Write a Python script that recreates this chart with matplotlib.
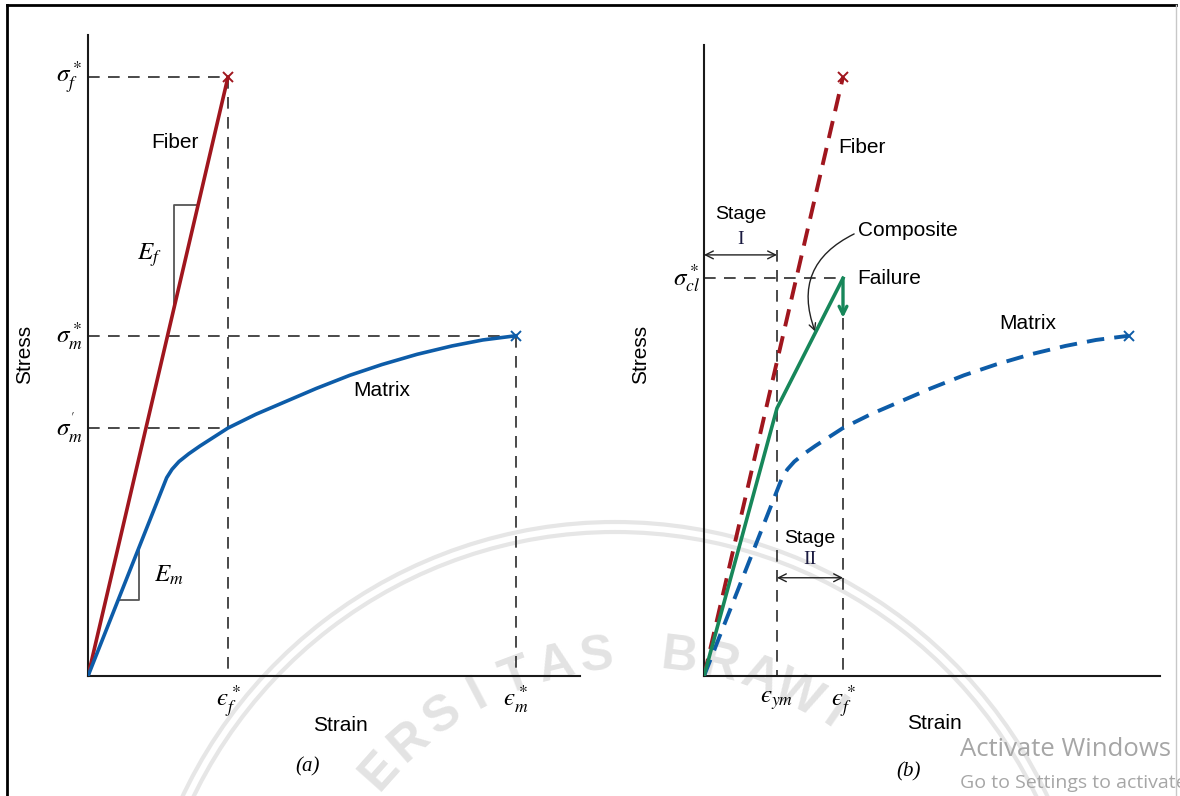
import matplotlib
matplotlib.use("Agg")
import matplotlib.pyplot as plt
from matplotlib.patches import Arc
from matplotlib.lines import Line2D
import numpy as np

# relative units: fiber failure strain = 1, fiber strength = 1
fiber_strain = [0.0, 1.0]
fiber_stress = [0.0, 1.0]

matrix_strain = [0.0, 0.562, 0.60, 0.65, 0.72, 0.80, 0.90, 1.0, 1.2, 1.4, 1.63,
                 1.87, 2.1, 2.35, 2.6, 2.82, 3.055]
matrix_stress = [0.0, 0.331, 0.345, 0.358, 0.371, 0.384, 0.399, 0.414, 0.437, 0.457, 0.480,
                 0.502, 0.520, 0.537, 0.551, 0.561, 0.568]

composite_strain = [0.0, 0.525, 1.0]
composite_stress = [0.0, 0.447, 0.664]
failure_drop = 0.598

eps_f = 1.0
sig_f = 1.0
eps_m = 3.055
sig_m = 0.568
sig_m_prime = 0.414
eps_ym = 0.525
sig_cl = 0.664

RED = "#a0161e"
BLUE = "#0d5ca8"
GREEN = "#17875a"
DASH = "#2a2a2a"

sans = ["Liberation Sans Narrow", "Liberation Sans", "DejaVu Sans"]
serif = ["Liberation Serif", "DejaVu Serif"]
plt.rcParams["mathtext.fontset"] = "stix"

W, H = 1180, 796
fig = plt.figure(figsize=(W / 100, H / 100), dpi=100)

# --- faint watermark / screenshot leftovers in the background ---
bg = fig.add_axes([0, 0, 1176 / W, 1], zorder=0)
bg.set_xlim(0, 1176)
bg.set_ylim(H, 0)
bg.axis("off")
wm = "UNIVERSITAS BRAWIJAYA"
cx, cy, R = 638, 1000, 345
step = 6.9
for i, ch in enumerate(wm):
    if i < 4 or i > 16:
        continue
    ang = 90 + (11 - i) * step
    a = np.radians(ang)
    bg.text(cx + R * np.cos(a), cy - R * np.sin(a), ch, fontsize=36, color="#e3e3e3",
            ha="center", va="center", rotation=ang - 90, family=sans[1],
            fontweight="bold", zorder=1)
# y axis is inverted here, so the upper half of the circle is 180..360
for rr in (468, 478):
    bg.add_patch(Arc((615, 1000), 2 * rr, 2 * rr, theta1=195, theta2=345,
                     color="#e6e6e6", lw=3, zorder=0))
bg.text(960, 750, "Activate Windows", fontsize=18.5, color="#a6a6a6", va="center",
        family=["Open Sans", "DejaVu Sans"])
bg.text(960, 783, "Go to Settings to activate Windows.", fontsize=14, color="#a6a6a6",
        va="center", family=["Open Sans", "DejaVu Sans"])

# border of the screenshot
fig.add_artist(Line2D([7 / W, 1176 / W], [1 - 5 / H, 1 - 5 / H], color="black", lw=2))
fig.add_artist(Line2D([7 / W, 7 / W], [0, 1 - 5 / H], color="black", lw=2))
fig.add_artist(Line2D([1176 / W, 1176 / W], [0, 1 - 5 / H], color="#c8c8c8", lw=1))


def setup(ax, xmax, ymax):
    ax.set_xlim(0, xmax)
    ax.set_ylim(0, ymax)
    ax.set_facecolor("none")
    for s in ("top", "right"):
        ax.spines[s].set_visible(False)
    for s in ("left", "bottom"):
        ax.spines[s].set_linewidth(1.5)
        ax.spines[s].set_color("#1a1a1a")
    ax.set_xticks([])
    ax.set_yticks([])


def dashed(ax, xs, ys):
    ax.plot(xs, ys, color=DASH, lw=1.2, dashes=(7, 5), zorder=2)


# ---------------- panel (a) ----------------
axa = fig.add_axes([88 / W, 120 / H, 492 / W, 641 / H], zorder=2)
setup(axa, 492 / 140, 641 / 599)

dashed(axa, [0, eps_f], [sig_f, sig_f])
dashed(axa, [eps_f, eps_f], [sig_f, 0])
dashed(axa, [0, eps_m], [sig_m, sig_m])
dashed(axa, [eps_m, eps_m], [sig_m, 0])
dashed(axa, [0, eps_f], [sig_m_prime, sig_m_prime])

axa.plot(fiber_strain, fiber_stress, color=RED, lw=2.6, zorder=3, solid_capstyle="round")
axa.plot([fiber_strain[-1]], [fiber_stress[-1]], "x", color=RED, ms=7, mew=1.4, zorder=4)
axa.plot(matrix_strain, matrix_stress, color=BLUE, lw=2.6, zorder=3, solid_joinstyle="round")
axa.plot([matrix_strain[-1]], [matrix_stress[-1]], "x", color=BLUE, ms=7, mew=1.4, zorder=4)

# slope triangles
ef_x, ef_top = 0.614, 0.786
axa.plot([ef_x, ef_x, ef_top], [ef_x, ef_top, ef_top], color="#555555", lw=1.3, zorder=2)
em_slope = matrix_stress[1] / matrix_strain[1]
em_x, em_bot = 0.364, 0.127
axa.plot([em_bot / em_slope, em_x, em_x], [em_bot, em_bot, em_x * em_slope],
         color="#555555", lw=1.3, zorder=2)
axa.text(0.44, 0.703, r"$E_f$", fontsize=18, ha="center", va="center")
axa.text(0.58, 0.169, r"$E_m$", fontsize=18, ha="center", va="center")

axa.text(0.621, 0.891, "Fiber", fontsize=15, ha="center", va="center", family=sans)
axa.text(2.1, 0.476, "Matrix", fontsize=15, ha="center", va="center", family=sans)

axa.text(-0.04, sig_f, r"$\sigma_f^*$", fontsize=18, ha="right", va="center", clip_on=False)
axa.text(-0.04, sig_m, r"$\sigma_m^*$", fontsize=18, ha="right", va="center", clip_on=False)
axa.text(-0.04, sig_m_prime, r"$\sigma_m^{'}$", fontsize=18, ha="right", va="center",
         clip_on=False)
axa.text(eps_f, -0.012, "$ϵ_f^*$", fontsize=18, ha="center", va="top", clip_on=False)
axa.text(eps_m, -0.012, "$ϵ_m^*$", fontsize=18, ha="center", va="top", clip_on=False)

axa.text(-0.455, 0.536, "Stress", fontsize=15, rotation=90, ha="center", va="center",
         family=sans, clip_on=False)
axa.text(1.8, -0.082, "Strain", fontsize=15, ha="center", va="center", family=sans,
         clip_on=False)
axa.text(1.571, -0.152, "(a)", fontsize=15, ha="center", va="center", family=serif,
         style="italic", clip_on=False)

# ---------------- panel (b) ----------------
axb = fig.add_axes([704 / W, 120 / H, 456 / W, 631 / H], zorder=2)
setup(axb, 456 / 139, 631 / 599)

dashed(axb, [0, eps_f], [sig_cl, sig_cl])
dashed(axb, [eps_ym, eps_ym], [0.711, 0])
dashed(axb, [eps_f, eps_f], [sig_cl, 0])

axb.plot(fiber_strain, fiber_stress, color=RED, lw=2.8, dashes=(4.5, 2.6), zorder=3)
axb.plot([fiber_strain[-1]], [fiber_stress[-1]], "x", color=RED, ms=7, mew=1.4, zorder=4)
axb.plot(matrix_strain, matrix_stress, color=BLUE, lw=2.8, dashes=(4.5, 2.6), zorder=3)
axb.plot([matrix_strain[-1]], [matrix_stress[-1]], "x", color=BLUE, ms=7, mew=1.4, zorder=4)
axb.plot(composite_strain, composite_stress, color=GREEN, lw=2.6, zorder=4,
         solid_joinstyle="miter")
axb.annotate("", xy=(composite_strain[-1], failure_drop),
             xytext=(composite_strain[-1], composite_stress[-1]),
             arrowprops=dict(arrowstyle="->", color=GREEN, lw=2.4, shrinkA=0, shrinkB=0,
                             mutation_scale=14), zorder=4)

# stage arrows
axb.annotate("", xy=(0, 0.703), xytext=(eps_ym, 0.703),
             arrowprops=dict(arrowstyle="<->", color="#222222", lw=1.0, shrinkA=0,
                             shrinkB=0, mutation_scale=14))
axb.annotate("", xy=(eps_ym, 0.164), xytext=(eps_f, 0.164),
             arrowprops=dict(arrowstyle="<->", color="#222222", lw=1.0, shrinkA=0,
                             shrinkB=0, mutation_scale=14))
axb.text(0.266, 0.771, "Stage", fontsize=14, ha="center", va="center", family=sans)
axb.text(0.266, 0.728, "I", fontsize=14, ha="center", va="center", family=serif,
         color="#1a1a40")
axb.text(0.763, 0.230, "Stage", fontsize=14, ha="center", va="center", family=sans)
axb.text(0.763, 0.194, "II", fontsize=14, ha="center", va="center", family=serif,
         color="#1a1a40")

axb.text(0.964, 0.883, "Fiber", fontsize=15, ha="left", va="center", family=sans)
axb.text(1.108, 0.743, "Composite", fontsize=15, ha="left", va="center", family=sans)
axb.text(1.10, 0.664, "Failure", fontsize=15, ha="left", va="center", family=sans)
axb.text(2.33, 0.588, "Matrix", fontsize=15, ha="center", va="center", family=sans)
axb.annotate("", xy=(0.80, 0.575), xytext=(1.08, 0.738),
             arrowprops=dict(arrowstyle="->", color="#222222", lw=1.0, shrinkA=0, shrinkB=0,
                             connectionstyle="arc3,rad=0.45", mutation_scale=12))

axb.text(-0.03, sig_cl, r"$\sigma_{cl}^*$", fontsize=18, ha="right", va="center",
         clip_on=False)
axb.text(eps_ym, -0.02, "$ϵ_{ym}$", fontsize=18, ha="center", va="top", clip_on=False)
axb.text(eps_f, -0.012, "$ϵ_f^*$", fontsize=18, ha="center", va="top", clip_on=False)

axb.text(-0.46, 0.536, "Stress", fontsize=15, rotation=90, ha="center", va="center",
         family=sans, clip_on=False)
axb.text(1.66, -0.08, "Strain", fontsize=15, ha="center", va="center", family=sans,
         clip_on=False)
axb.text(1.468, -0.16, "(b)", fontsize=15, ha="center", va="center", family=serif,
         style="italic", clip_on=False)

fig.savefig("out.png", dpi=100, facecolor="white")
